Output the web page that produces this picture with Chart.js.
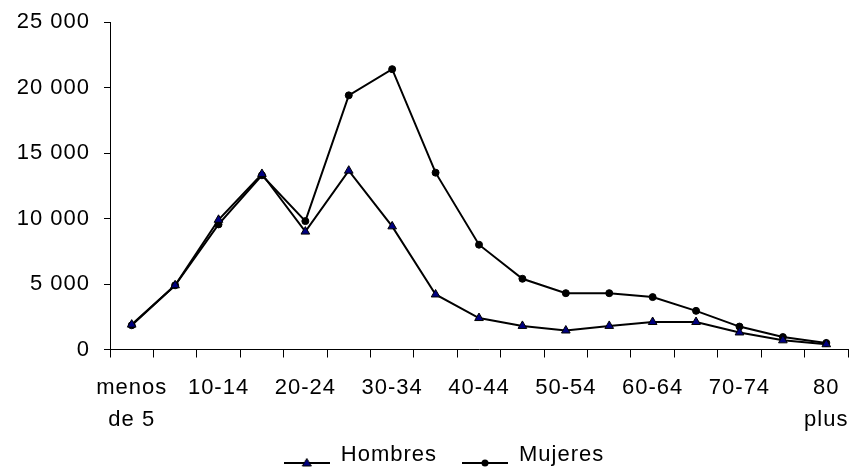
<!DOCTYPE html>
<html><head><meta charset="utf-8">
<script src="https://cdn.jsdelivr.net/npm/chart.js@4.4.0/dist/chart.umd.min.js"></script>
<style>html,body{margin:0;padding:0;background:#fff;} canvas{display:block;}</style>
</head><body>
<canvas id="c" width="860" height="467"></canvas>
<script>
const categories = ['menos de 5','5-9','10-14','15-19','20-24','25-29','30-34','35-39','40-44','45-49','50-54','55-59','60-64','65-69','70-74','75-79','80 plus'];
const tickLabels = [['menos','de 5'],'','10-14','','20-24','','30-34','','40-44','','50-54','','60-64','','70-74','',['80','plus']];
const hombres = [1900,4900,9900,13400,9000,13650,9400,4200,2400,1800,1450,1800,2100,2100,1300,700,400];
const mujeres = [1850,4900,9550,13300,9800,19400,21400,13500,8000,5400,4300,4300,4000,2950,1750,950,500];
const seriesNames = ['Hombres','Mujeres'];
const yMin = 0, yMax = 25000, yStep = 5000;

const FONT = {family: '"Liberation Sans", Arial, sans-serif', size: 22};

function fmt(v){ return String(v).replace(/\B(?=(\d{3})+(?!\d))/g, ' '); }

function legendImg(kind){
  const c = document.createElement('canvas');
  c.width = 46; c.height = 30;
  const g = c.getContext('2d');
  const cy = 23;
  g.strokeStyle = '#000'; g.lineWidth = 2;
  g.beginPath(); g.moveTo(0, cy); g.lineTo(46, cy); g.stroke();
  if (kind === 'tri') {
    g.fillStyle = '#000080'; g.lineWidth = 1;
    g.beginPath(); g.moveTo(23, cy-4.5); g.lineTo(27.5, cy+3); g.lineTo(18.5, cy+3); g.closePath();
    g.fill(); g.stroke();
  } else {
    g.fillStyle = '#000';
    g.beginPath(); g.arc(23, cy, 3.5, 0, Math.PI*2); g.fill();
  }
  return c;
}
const legendStyles = [legendImg('tri'), legendImg('dot')];

const tweakPlugin = {
  id: 'tweak',
  beforeLayout(chart){ chart.ctx.letterSpacing = '1px'; },
  afterLayout(chart){
    const lg = chart.legend;
    if (lg) {
      const h = lg.bottom - lg.top;
      lg.left += 20; lg.right += 20;
      lg.top = 419; lg.bottom = 419 + h;
    }
  },
  beforeDraw(chart){ chart.ctx.letterSpacing = '1px'; }
};

new Chart(document.getElementById('c'), {
  type: 'line',
  data: {
    labels: categories,
    datasets: [
      {label: seriesNames[0], data: hombres, borderColor: '#000', borderWidth: 2,
       pointStyle: 'triangle', pointRadius: 5, pointBackgroundColor: '#000080',
       pointBorderColor: '#000', pointBorderWidth: 1, tension: 0},
      {label: seriesNames[1], data: mujeres, borderColor: '#000', borderWidth: 2,
       pointStyle: 'circle', pointRadius: 3.5, pointBackgroundColor: '#000',
       pointBorderColor: '#000', pointBorderWidth: 1, tension: 0}
    ]
  },
  plugins: [tweakPlugin],
  options: {
    responsive: false, animation: false,
    layout: {padding: {top: 22, right: 12, left: 0, bottom: -25.5}},
    plugins: {
      tooltip: {enabled: false},
      legend: {
        position: 'bottom',
        labels: {
          font: FONT, color: '#000', usePointStyle: true, pointStyleWidth: 46, padding: 25,
          generateLabels(chart){
            return chart.data.datasets.map((d,i)=>({
              text: d.label, pointStyle: legendStyles[i], fillStyle: '#000',
              strokeStyle: '#000', lineWidth: 0, hidden: false, datasetIndex: i, fontColor: '#000'
            }));
          }
        }
      }
    },
    scales: {
      x: {
        offset: true,
        grid: {offset: true, drawOnChartArea: false, drawTicks: true, tickLength: 8, color: '#000'},
        border: {display: true, color: '#000', width: 1},
        ticks: {
          autoSkip: false, maxRotation: 0, minRotation: 0, color: '#000', padding: 14,
          font: {...FONT, lineHeight: 1.48},
          callback: (v, i) => tickLabels[i]
        },
        afterFit(s){ s.height = 86; s.paddingLeft = 0; s.paddingRight = 0; }
      },
      y: {
        min: yMin, max: yMax,
        grid: {drawOnChartArea: false, drawTicks: true, tickLength: 6, color: '#000'},
        border: {display: true, color: '#000', width: 1},
        ticks: {stepSize: yStep, color: '#000', padding: 14, font: FONT, callback: v => fmt(v)},
        afterFit(s){ s.width = 110; s.paddingTop = 0; s.paddingBottom = 0; }
      }
    }
  }
});
</script>
</body></html>
